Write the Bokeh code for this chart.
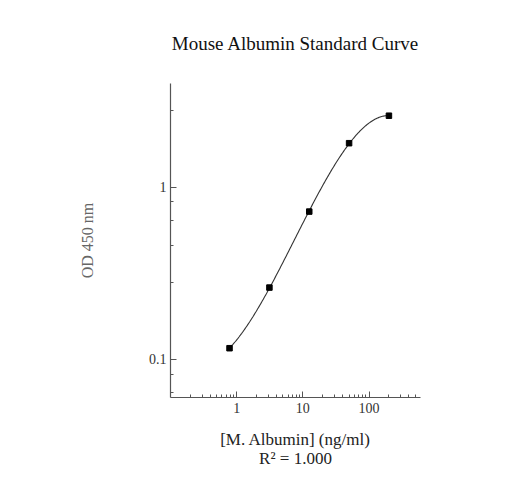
import numpy as np
from bokeh.plotting import figure
from bokeh.models import FixedTicker, LinearAxis, Range1d, CustomJSTickFormatter
from bokeh.embed import file_html
from bokeh.resources import INLINE

# ---- data ----
title_text = "Mouse Albumin Standard Curve"
x_label = "[M. Albumin] (ng/ml)"
fit_label = "R\u00b2 = 1.000"
y_label = "OD 450 nm"

concentration = [0.78, 3.125, 12.5, 50.0, 200.0]
od450 = [0.116, 0.261, 0.721, 1.80, 2.60]

x_major = [1, 10, 100]
x_minor = [0.2, 0.3, 0.4, 0.5, 0.6, 0.7, 0.8, 0.9,
           2, 3, 4, 5, 6, 7, 8, 9,
           20, 30, 40, 50, 60, 70, 80, 90,
           200, 300, 400, 500]
y_major = [0.1, 1]
y_minor = [0.064, 0.082, 0.28, 0.46, 0.64, 0.82, 2.8]

# ---- fit (cubic polynomial in log-log space) ----
lx = np.log10(concentration)
ly = np.log10(od450)
coef = np.polyfit(lx, ly, 3)
gx = np.linspace(lx.min(), lx.max(), 200)
fit_x = 10 ** gx
fit_y = 10 ** np.polyval(coef, gx)

SERIF = "Liberation Serif"

p = figure(width=501, height=474, x_axis_type="log", y_axis_type="log",
           x_range=Range1d(0.1, 600), y_range=Range1d(0.06, 4),
           output_backend="svg", toolbar_location=None,
           min_border_left=170, min_border_right=81,
           min_border_top=83, min_border_bottom=77)
p.outline_line_color = None
p.grid.grid_line_color = None

p.title.text = title_text
p.title.align = "center"
p.title.text_font = SERIF
p.title.text_font_style = "normal"
p.title.text_font_size = "19px"
p.title.text_color = "#111111"
p.title.standoff = 59

fmt = CustomJSTickFormatter(code="return String(tick);")

for ax in (p.xaxis[0], p.yaxis[0]):
    ax.formatter = fmt
    ax.axis_line_color = "#555555"
    ax.axis_line_width = 1.2
    ax.major_tick_line_color = "#555555"
    ax.minor_tick_line_color = "#555555"
    ax.major_tick_in = 6
    ax.major_tick_out = 0
    ax.minor_tick_in = 3
    ax.minor_tick_out = 0
    ax.major_label_text_font = SERIF
    ax.major_label_text_font_size = "14px"
    ax.major_label_text_color = "#333333"
    ax.axis_label_text_font = SERIF
    ax.axis_label_text_font_style = "normal"

p.xaxis[0].ticker = FixedTicker(ticks=x_major, minor_ticks=x_minor)
p.yaxis[0].ticker = FixedTicker(ticks=y_major, minor_ticks=y_minor)

p.xaxis[0].axis_label = x_label
p.xaxis[0].axis_label_text_font_size = "17px"
p.xaxis[0].axis_label_text_color = "#222222"
p.xaxis[0].major_label_standoff = 5
p.xaxis[0].axis_label_standoff = 14

p.yaxis[0].axis_label = y_label
p.yaxis[0].axis_label_text_font_size = "16px"
p.yaxis[0].axis_label_text_color = "#666666"
p.yaxis[0].major_label_standoff = 4
p.yaxis[0].axis_label_standoff = 50

r2_axis = LinearAxis(ticker=FixedTicker(ticks=[]), axis_label=fit_label,
                     axis_line_color=None, major_tick_line_color=None,
                     minor_tick_line_color=None,
                     major_label_text_font_size="0px",
                     major_tick_in=0, major_tick_out=0,
                     minor_tick_in=0, minor_tick_out=0,
                     major_label_standoff=0, axis_label_standoff=-3,
                     axis_label_text_font=SERIF,
                     axis_label_text_font_style="normal",
                     axis_label_text_font_size="17px",
                     axis_label_text_color="#222222")
p.add_layout(r2_axis, "below")

p.line(fit_x, fit_y, line_color="#333333", line_width=1.1)
p.scatter(concentration, od450, marker="square", size=5.5,
          fill_color="black", line_color="black")

open("out.html", "w").write(file_html(p, INLINE))
